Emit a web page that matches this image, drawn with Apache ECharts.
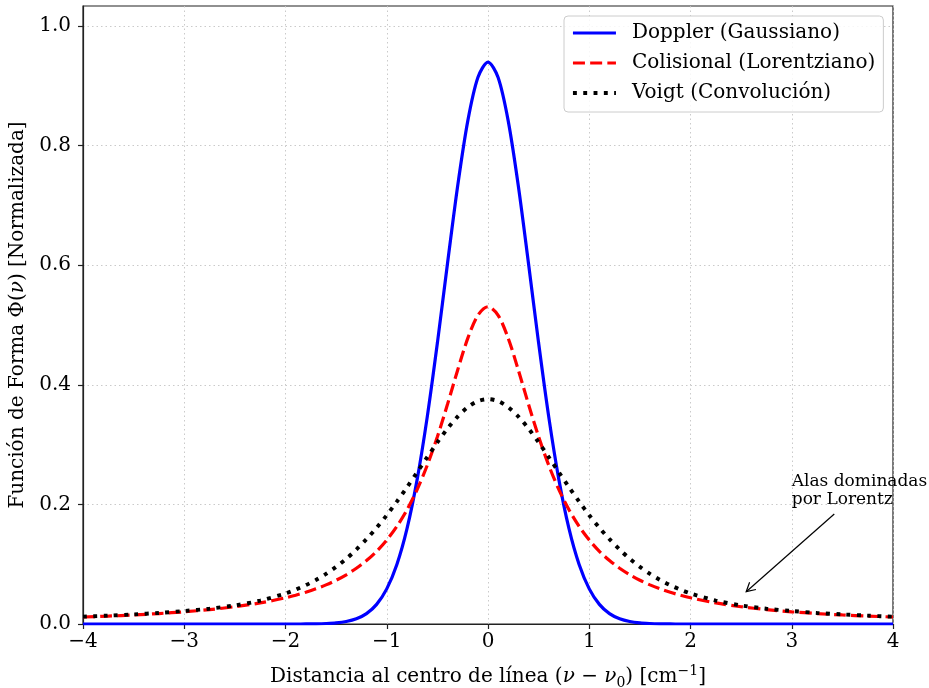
<!DOCTYPE html>
<html><head><meta charset="utf-8">
<script src="https://cdn.jsdelivr.net/npm/echarts@6/dist/echarts.min.js"></script>
<style>html,body{margin:0;padding:0;background:#fff}#c{width:929px;height:688px}</style>
</head><body><div id="c"></div>
<script>
const xs = [-4,-3.75,-3.5,-3.25,-3,-2.75,-2.5,-2.25,-2,-1.9,-1.8,-1.7,-1.6,-1.5,-1.4,-1.3,-1.2,-1.1,-1,-0.9,-0.8,-0.7,-0.6,-0.5,-0.4,-0.3,-0.2,-0.1,0,
  0.1,0.2,0.3,0.4,0.5,0.6,0.7,0.8,0.9,1,1.1,1.2,1.3,1.4,1.5,1.6,1.7,1.8,1.9,2,2.25,2.5,2.75,3,3.25,3.5,3.75,4];
const doppler = [0,0,0,0,0,0,0,0,0,0,0.0001,0.0003,0.0008,0.0018,0.0041,0.0087,0.0173,0.0328,0.0587,0.0994,0.1593,0.2414,0.3463,0.4697,0.6028,0.7320,0.8408,0.9137,0.9394,
  0.9137,0.8408,0.7320,0.6028,0.4697,0.3463,0.2414,0.1593,0.0994,0.0587,0.0328,0.0173,0.0087,0.0041,0.0018,0.0008,0.0003,0.0001,0,0,0,0,0,0,0,0,0,0];
const colisional = [0.0117,0.0132,0.0151,0.0175,0.0204,0.0241,0.0289,0.0352,0.0438,0.0481,0.0531,0.0588,0.0654,0.0732,0.0823,0.0932,0.1061,0.1216,0.1404,0.1632,0.1910,0.2247,0.2653,0.3131,0.3673,0.4244,0.4775,0.5162,0.5305,
  0.5162,0.4775,0.4244,0.3673,0.3131,0.2653,0.2247,0.1910,0.1632,0.1404,0.1216,0.1061,0.0932,0.0823,0.0732,0.0654,0.0588,0.0531,0.0481,0.0438,0.0352,0.0289,0.0241,0.0204,0.0175,0.0151,0.0132,0.0117];
const voigt = [0.0123,0.0140,0.0161,0.0185,0.0218,0.0256,0.0311,0.0391,0.0511,0.0574,0.0649,0.0736,0.0838,0.0956,0.1091,0.1245,0.1418,0.1609,0.1819,0.2046,0.2287,0.2537,0.2790,0.3037,0.3267,0.3468,0.3625,0.3726,0.3760,
  0.3726,0.3625,0.3468,0.3267,0.3037,0.2790,0.2537,0.2287,0.2046,0.1819,0.1609,0.1418,0.1245,0.1091,0.0956,0.0838,0.0736,0.0649,0.0574,0.0511,0.0391,0.0311,0.0256,0.0218,0.0185,0.0161,0.0140,0.0123];
const yTicks = [0,0.2,0.4,0.6,0.8,1.0];
const seriesNames = ['Doppler (Gaussiano)','Colisional (Lorentziano)','Voigt (Convolución)'];
const annText = 'Alas dominadas\npor Lorentz';
const annTextAt = [3.0, 0.2];
const annHead = [2.55, 0.054];
const annTail = [3.42, 0.184];

const FONT = '"DejaVu Serif", "Liberation Serif", serif';
const pair = ys => xs.map((x,i)=>[x, ys[i]]);
const chart = echarts.init(document.getElementById('c'), null, {renderer:'canvas'});
const gridLine = {show:true, lineStyle:{color:'#c4c4c4', width:0.9, type:[1.5,3]}};
const noSym = {color:'transparent', borderColor:'transparent', borderWidth:0, opacity:0};
const option = {
  animation:false,
  backgroundColor:'#fff',
  grid:{left:83, right:36, top:6, bottom:64, containLabel:false, outerBoundsMode:'none',
    show:true, borderColor:'#222', borderWidth:1.2, backgroundColor:'transparent'},
  legend:{
    orient:'vertical', left:564, top:16,
    data:[
      {name:seriesNames[0], itemStyle:noSym, lineStyle:{color:'#0000ff', width:3.2, type:'solid'}},
      {name:seriesNames[1], itemStyle:noSym, lineStyle:{color:'#ff0000', width:3.2, type:[12,5.2], cap:'butt'}},
      {name:seriesNames[2], itemStyle:noSym, lineStyle:{color:'#000000', width:3.9, type:[3.9,6.4], cap:'butt'}}
    ],
    itemWidth:43, itemHeight:20, itemGap:10,
    padding:[7,8,9,7],
    itemStyle:noSym,
    backgroundColor:'rgba(255,255,255,0.85)', borderColor:'#cccccc', borderWidth:1, borderRadius:4,
    textStyle:{fontFamily:FONT, fontSize:20, color:'#000', padding:[0,0,0,11]}
  },
  xAxis:{
    type:'value', min:-4, max:4, interval:1,
    axisLine:{show:true, onZero:false, lineStyle:{color:'#222', width:1.2}},
    axisTick:{show:true, inside:false, length:5, lineStyle:{color:'#222', width:1.2}},
    axisLabel:{margin:8, fontFamily:FONT, fontSize:20, color:'#000', formatter:v=>String(v).replace('-','\u2212')},
    splitLine:gridLine,
    name:'Distancia al centro de línea ({i|ν} − {i|ν}{sub|0}) [cm{sup|−1}]',
    nameLocation:'middle', nameGap:40,
    nameTextStyle:{fontFamily:FONT, fontSize:20, color:'#000', lineHeight:26,
      rich:{i:{fontFamily:FONT, fontSize:20, fontStyle:'italic', color:'#000', lineHeight:26},
            sub:{fontFamily:FONT, fontSize:14, color:'#000', verticalAlign:'bottom', lineHeight:15},
            sup:{fontFamily:FONT, fontSize:14, color:'#000', verticalAlign:'top', lineHeight:15}}}
  },
  yAxis:{
    type:'value', min:0, max:1.0333,
    axisLine:{show:true, onZero:false, lineStyle:{color:'#222', width:1.2}},
    axisTick:{show:true, length:5, customValues:yTicks, lineStyle:{color:'#222', width:1.2}},
    axisLabel:{margin:12, fontFamily:FONT, fontSize:20, color:'#000', customValues:yTicks, formatter:v=>v.toFixed(1)},
    splitLine:gridLine,
    name:'Función de Forma Φ({i|ν}) [Normalizada]',
    nameLocation:'middle', nameGap:53, nameRotate:90,
    nameTextStyle:{fontFamily:FONT, fontSize:20, color:'#000',
      rich:{i:{fontFamily:FONT, fontSize:20, fontStyle:'italic', color:'#000'}}}
  },
  series:[
    {name:seriesNames[0], type:'line', data:pair(doppler), showSymbol:false, symbol:'none', smooth:0.3,
      lineStyle:{color:'#0000ff', width:3.2}, itemStyle:{color:'#0000ff'}, z:2},
    {name:seriesNames[1], type:'line', data:pair(colisional), showSymbol:false, symbol:'none', smooth:0.3,
      lineStyle:{color:'#ff0000', width:3.2, type:[12,5.2], cap:'butt'}, itemStyle:{color:'#ff0000'}, z:3},
    {name:seriesNames[2], type:'line', data:pair(voigt), showSymbol:false, symbol:'none', smooth:0.3,
      lineStyle:{color:'#000000', width:3.9, type:[3.9,6.4], cap:'butt'}, itemStyle:{color:'#000'}, z:4}
  ]
};
chart.setOption(option);

const tp = chart.convertToPixel({gridIndex:0}, annTextAt);
const hp = chart.convertToPixel({gridIndex:0}, annHead);
const tl = chart.convertToPixel({gridIndex:0}, annTail);
const ang = Math.atan2(tl[1]-hp[1], tl[0]-hp[0]);
const L = 10, a = 0.5;
const w1 = [hp[0]+L*Math.cos(ang+a), hp[1]+L*Math.sin(ang+a)];
const w2 = [hp[0]+L*Math.cos(ang-a), hp[1]+L*Math.sin(ang-a)];
chart.setOption({graphic:[
  {type:'text', x:tp[0], y:tp[1]+4, z:10,
    style:{text:annText, fill:'#000', font:'17px "DejaVu Serif"', align:'left', verticalAlign:'bottom', lineHeight:18}},
  {type:'polyline', z:10, shape:{points:[tl, hp]}, style:{stroke:'#000', lineWidth:1.2, fill:null}},
  {type:'polyline', z:10, shape:{points:[w1, hp, w2]}, style:{stroke:'#000', lineWidth:1.2, fill:null}}
]});
</script></body></html>
